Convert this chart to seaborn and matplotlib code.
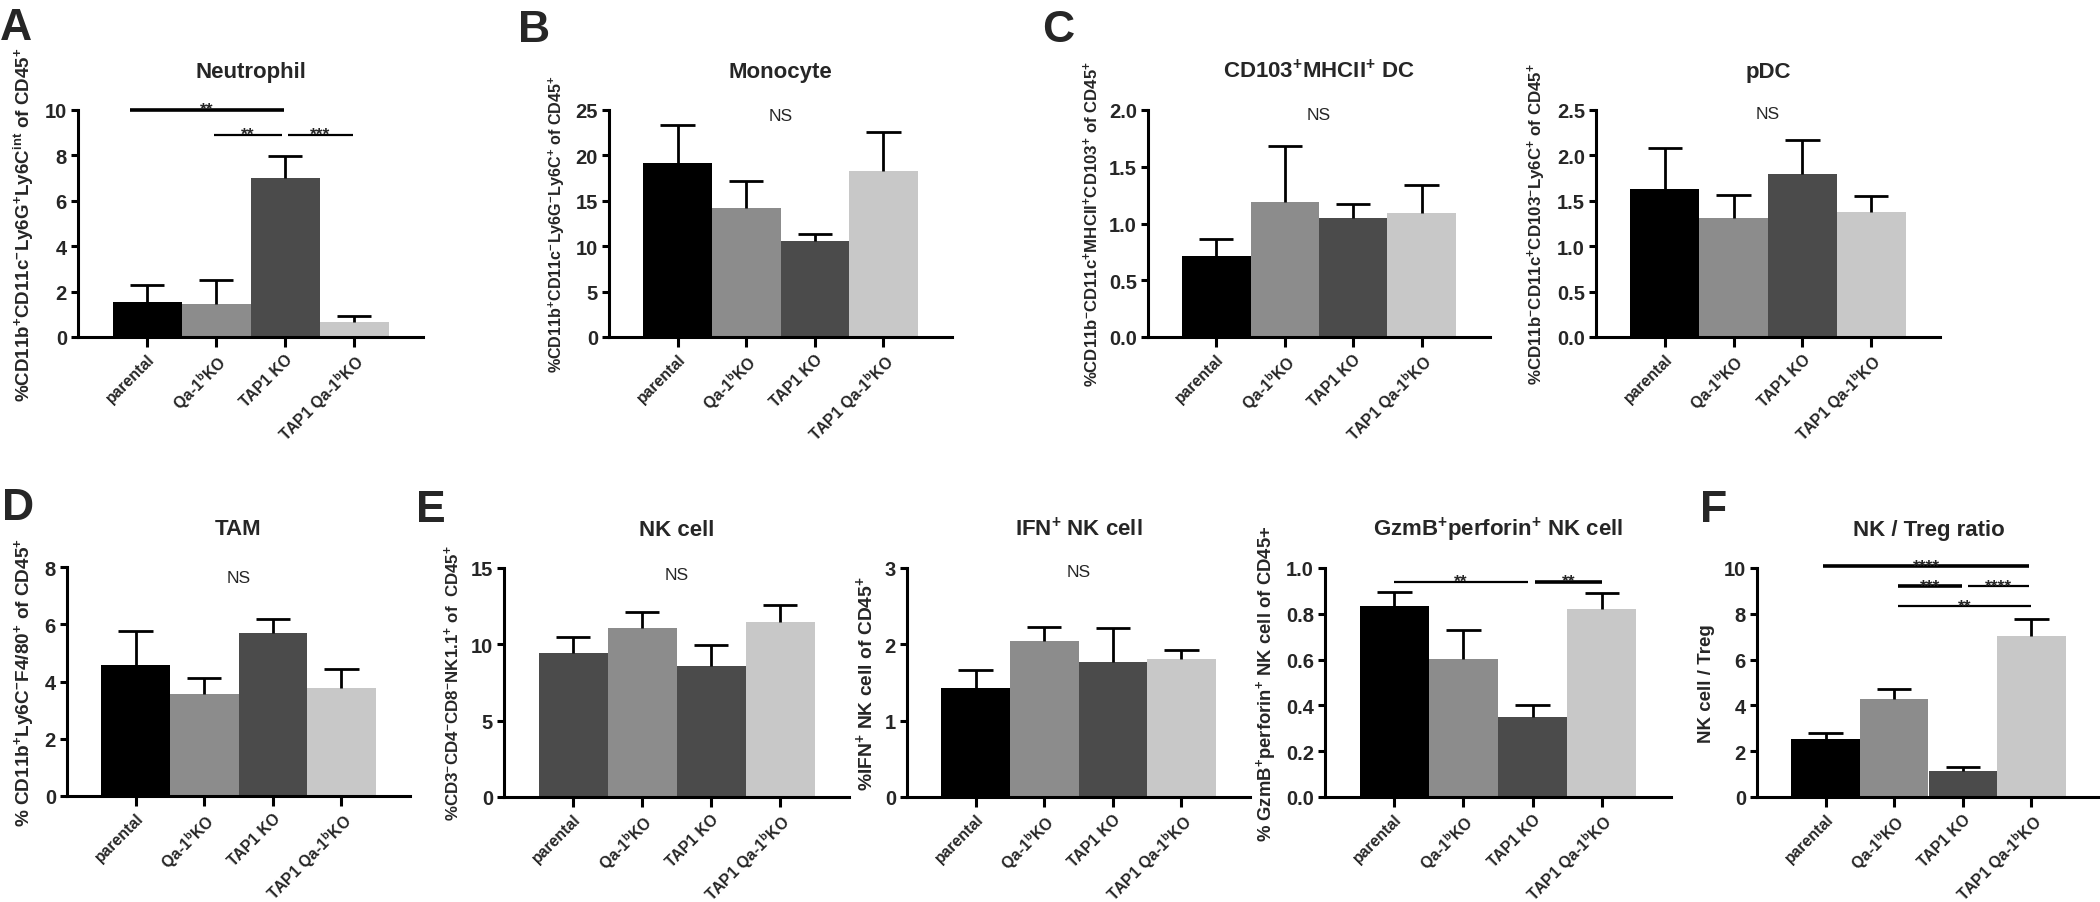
import numpy as np
import pandas as pd
import matplotlib
matplotlib.use('Agg')
import matplotlib.pyplot as plt
from matplotlib.ticker import FormatStrFormatter
import seaborn as sns

sns.set_style('ticks')
plt.rcParams['font.family'] = ['Liberation Sans', 'DejaVu Sans']
plt.rcParams['mathtext.fontset'] = 'custom'
plt.rcParams['mathtext.rm'] = 'Liberation Sans'
plt.rcParams['mathtext.bf'] = 'Liberation Sans:bold'
plt.rcParams['mathtext.it'] = 'Liberation Sans:italic'

# Groups
groups = ['parental', 'Qa-1bKO', 'TAP1 KO', 'TAP1 Qa-1bKO']
group_labels = ['parental', r'Qa-1$^{\mathbf{b}}$KO', 'TAP1 KO', r'TAP1 Qa-1$^{\mathbf{b}}$KO']
grey4 = ['#000000', '#8c8c8c', '#4b4b4b', '#c8c8c8']
grey4_nk = ['#4b4b4b', '#8c8c8c', '#4b4b4b', '#c8c8c8']

# Mean values and SEM
neutrophil = [1.54, 1.44, 7.00, 0.66]
neutrophil_sem = [0.76, 1.05, 0.96, 0.26]
monocyte = [19.2, 14.2, 10.6, 18.3]
monocyte_sem = [4.2, 3.0, 0.7, 4.3]
cd103_dc = [0.71, 1.19, 1.05, 1.09]
cd103_dc_sem = [0.155, 0.49, 0.12, 0.25]
pdc = [1.63, 1.31, 1.79, 1.38]
pdc_sem = [0.45, 0.25, 0.38, 0.17]
tam = [4.58, 3.56, 5.69, 3.77]
tam_sem = [1.20, 0.57, 0.49, 0.66]
nk = [9.41, 11.1, 8.59, 11.49]
nk_sem = [1.09, 1.0, 1.34, 1.09]
ifn_nk = [1.43, 2.04, 1.77, 1.81]
ifn_nk_sem = [0.23, 0.19, 0.44, 0.11]
gzmb_nk = [0.833, 0.602, 0.348, 0.823]
gzmb_nk_sem = [0.062, 0.129, 0.055, 0.066]
nk_treg = [2.52, 4.30, 1.12, 7.04]
nk_treg_sem = [0.29, 0.41, 0.19, 0.72]

# significance brackets: (x start, x end, y, stars, thick)
sig_neutrophil = [(-0.24, 1.98, 10.0, '**', True),
                  (0.97, 1.96, 8.9, '**', False),
                  (2.04, 2.98, 8.9, '***', False)]
sig_gzmb = [(0.0, 1.93, 0.94, '**', False),
            (2.03, 3.01, 0.94, '**', True)]
sig_ratio = [(-0.04, 2.97, 10.07, '****', True),
             (1.05, 1.99, 9.2, '***', True),
             (2.07, 2.97, 9.2, '****', False),
             (1.06, 3.0, 8.32, '**', False)]

W, H = 2100, 903
fig = plt.figure(figsize=(W / 100, H / 100), dpi=100)


def box(x0, y0, x1, y1):
    return [x0 / W, 1 - y1 / H, (x1 - x0) / W, (y1 - y0) / H]


sup = lambda s: r'$^{\mathbf{' + s + '}}$'

panels = [
    dict(rect=box(78, 111, 423, 338), vals=neutrophil, sem=neutrophil_sem, colors=grey4,
         title='Neutrophil',
         ylabel='%CD11b' + sup('+') + 'CD11c' + sup('-') + 'Ly6G' + sup('+') + 'Ly6C' + sup('int') + ' of CD45' + sup('+'),
         ysize=13.5, ticks=np.arange(0, 11, 2), fmt='%d', ns=None, sig=sig_neutrophil),
    dict(rect=box(609, 111, 952, 338), vals=monocyte, sem=monocyte_sem, colors=grey4,
         title='Monocyte',
         ylabel='%CD11b' + sup('+') + 'CD11c' + sup('-') + 'Ly6G' + sup('-') + 'Ly6C' + sup('+') + ' of CD45' + sup('+'),
         ysize=11.6, ticks=np.arange(0, 26, 5), fmt='%d', ns=24.4, sig=[]),
    dict(rect=box(1148, 111, 1490, 338), vals=cd103_dc, sem=cd103_dc_sem, colors=grey4,
         title='CD103' + sup('+') + 'MHCII' + sup('+') + ' DC',
         ylabel='%CD11b' + sup('-') + 'CD11c' + sup('+') + 'MHCII' + sup('+') + 'CD103' + sup('+') + ' of CD45' + sup('+'),
         ysize=12.1, ticks=np.arange(0, 2.01, 0.5), fmt='%.1f', ns=1.96, sig=[]),
    dict(rect=box(1596, 111, 1940, 338), vals=pdc, sem=pdc_sem, colors=grey4,
         title='pDC',
         ylabel='%CD11b' + sup('-') + 'CD11c' + sup('+') + 'CD103' + sup('-') + 'Ly6C' + sup('+') + ' of CD45' + sup('+'),
         ysize=12.2, ticks=np.arange(0, 2.51, 0.5), fmt='%.1f', ns=2.46, sig=[]),
    dict(rect=box(67, 568, 410, 797), vals=tam, sem=tam_sem, colors=grey4,
         title='TAM',
         ylabel='% CD11b' + sup('+') + 'Ly6C' + sup('-') + 'F4/80' + sup('+') + ' of CD45' + sup('+'),
         ysize=13.7, ticks=np.arange(0, 9, 2), fmt='%d', ns=7.65, sig=[]),
    dict(rect=box(504, 569, 849, 798), vals=nk, sem=nk_sem, colors=grey4_nk,
         title='NK cell',
         ylabel='%CD3' + sup('-') + 'CD4' + sup('-') + 'CD8' + sup('-') + 'NK1.1' + sup('+') + ' of  CD45' + sup('+'),
         ysize=12.2, ticks=np.arange(0, 16, 5), fmt='%d', ns=14.6, sig=[]),
    dict(rect=box(907, 569, 1250, 798), vals=ifn_nk, sem=ifn_nk_sem, colors=grey4,
         title='IFN' + sup('+') + ' NK cell',
         ylabel='%IFN' + sup('+') + ' NK cell of CD45' + sup('+'),
         ysize=13.9, ticks=np.arange(0, 4, 1), fmt='%d', ns=2.96, sig=[]),
    dict(rect=box(1325, 569, 1671, 798), vals=gzmb_nk, sem=gzmb_nk_sem, colors=grey4,
         title='GzmB' + sup('+') + 'perforin' + sup('+') + ' NK cell',
         ylabel='% GzmB' + sup('+') + 'perforin' + sup('+') + ' NK cell of CD45+',
         ysize=13.3, ticks=np.arange(0, 1.01, 0.2), fmt='%.1f', ns=None, sig=sig_gzmb),
    dict(rect=box(1757, 569, 2100, 798), vals=nk_treg, sem=nk_treg_sem, colors=grey4,
         title='NK / Treg ratio',
         ylabel='NK cell / Treg',
         ysize=13.5, ticks=np.arange(0, 11, 2), fmt='%d', ns=None, sig=sig_ratio),
]

for p in panels:
    ax = fig.add_axes(p['rect'])
    df = pd.DataFrame({'group': groups, 'value': p['vals'], 'sem': p['sem']})
    sns.barplot(data=df, x='group', y='value', hue='group', order=groups, hue_order=groups,
                palette=p['colors'], saturation=1, width=1.0, errorbar=None,
                legend=False, linewidth=0, ax=ax)
    x = np.arange(len(groups))
    top = df['value'] + df['sem']
    ax.vlines(x, df['value'], top, color='black', lw=2.0, zorder=3)
    ax.hlines(top, x - 0.25, x + 0.25, color='black', lw=2.0, zorder=3)

    ax.set_xlim(-1, 4)
    ax.set_ylim(0, p['ticks'][-1])
    ax.set_yticks(p['ticks'])
    ax.yaxis.set_major_formatter(FormatStrFormatter(p['fmt']))
    ax.set_xticks(x)
    ax.set_xticklabels(group_labels, rotation=45, ha='right', rotation_mode='anchor',
                       fontweight='bold', fontsize=11.3)
    for lab in ax.get_yticklabels():
        lab.set_fontweight('bold')
        lab.set_fontsize(14.5)
    ax.set_xlabel('')
    ax.set_ylabel(p['ylabel'], fontweight='bold', fontsize=p['ysize'], labelpad=6)
    ax.set_title(p['title'], fontweight='bold', fontsize=16, pad=24)
    sns.despine(ax=ax)
    for s in ['left', 'bottom']:
        ax.spines[s].set_linewidth(2.2)
        ax.spines[s].set_color('black')
    ax.tick_params(axis='both', width=2.2, color='black', direction='out')
    ax.tick_params(axis='y', length=5, pad=3)
    ax.tick_params(axis='x', length=7, pad=3)

    if p['ns'] is not None:
        ax.text(1.5, p['ns'], 'NS', ha='center', va='center', fontsize=12.5)
    for x1, x2, y, stars, thick in p['sig']:
        ax.plot([x1, x2], [y, y], color='black', lw=2.6 if thick else 1.6,
                clip_on=False, solid_capstyle='butt')
        ax.annotate(stars, xy=((x1 + x2) / 2, y), xytext=(0, -3.0), textcoords='offset points',
                    ha='center', va='baseline', fontsize=12.5, fontweight='bold',
                    annotation_clip=False)

# panel letters
letters = [('A', 0, 40), ('B', 518, 42), ('C', 1042, 42), ('D', 2, 520), ('E', 416, 522), ('F', 1700, 522)]
for letter, lx, ly in letters:
    fig.text(lx / W, 1 - ly / H, letter, fontsize=32, fontweight='bold', va='baseline', ha='left')

fig.savefig('out.png', dpi=100)
